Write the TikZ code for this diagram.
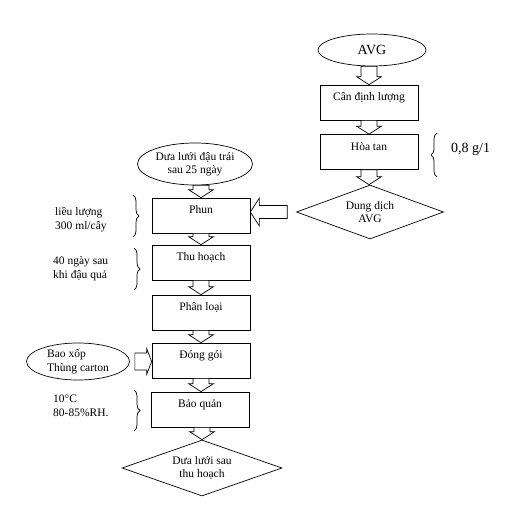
\documentclass[tikz,border=0pt]{standalone}
\usepackage{fontspec}
\setmainfont{Liberation Serif}
\usetikzlibrary{shapes.geometric,decorations.pathreplacing,calc}
\begin{document}
\begin{tikzpicture}[x=1pt,y=1pt,
  every node/.style={font=\fontsize{11.5}{13.5}\selectfont},
  lw/.style={line width=0.7pt},
  box/.style={draw, lw, minimum width=98pt, minimum height=35pt, inner sep=0pt, text height=8pt, text depth=12pt},
  oval/.style={draw, lw, ellipse, inner sep=0pt, align=center},
  dmd/.style={draw, lw, diamond, aspect=2.7, inner sep=0pt, align=center},
  note/.style={align=left, anchor=west, inner sep=0pt},
  barrow/.style n args={3}{draw, lw, fill=white, to path={
    let \p1=(\tikztostart), \p2=(\tikztotarget), \n1={atan2(\y2-\y1,\x2-\x1)},
        \p3=($(\p2)+(\n1+180:#3)$) in
    ($(\p1)+(\n1+90:#1)$) -- ($(\p3)+(\n1+90:#1)$) -- ($(\p3)+(\n1+90:#2)$) -- (\p2)
    -- ($(\p3)+(\n1-90:#2)$) -- ($(\p3)+(\n1-90:#1)$) -- ($(\p1)+(\n1-90:#1)$) -- cycle}},
  down/.style={barrow={8pt}{12.5pt}{8pt}},
  bracestyle/.style={draw, lw, decorate, decoration={brace, amplitude=6pt}}
]
\useasboundingbox (0,0) rectangle (511,-522);

% right column
\node[oval, minimum width=108pt, minimum height=32pt, font=\fontsize{14}{16}\selectfont] (avg) at (372,-50) {AVG};
\node[box] (can) at (369,-102.5) {Cân định lượng};
\node[box] (hoa) at (369,-152) {Hòa tan};
\node[dmd, minimum width=147pt, minimum height=54pt] (dd) at (370,-212) {Dung dịch\\AVG};
\node[note, font=\fontsize{14}{16}\selectfont] (conc) at (451,-149) {0,8 g/1};

% left column
\node[oval, minimum width=115pt, minimum height=42pt] (melon) at (195,-164) {Dưa lưới đậu trái\\sau 25 ngày};
\node[box] (phun) at (201,-215.5) {Phun};
\node[box] (thu) at (201,-262.5) {Thu hoạch};
\node[box] (phan) at (201,-312.5) {Phân loại};
\node[box] (dong) at (201,-360.5) {Đóng gói};
\node[box] (baoq) at (200,-409.5) {Bảo quản};
\node[dmd, minimum width=160pt, minimum height=56pt] (fin) at (202,-468) {Dưa lưới sau\\thu hoạch};
\node[oval, minimum width=103pt, minimum height=37pt, align=left] (bx) at (78,-361.5) {Bao xốp\\Thùng carton};

% side notes
\node[note] (lieu) at (55,-219.5) {liều lượng\\300 ml/cây};
\node[note] (forty) at (53,-268.5) {40 ngày sau\\khi đậu quả};
\node[note] (temp) at (53,-406) {10°C\\80-85\%RH.};

% braces
\draw[bracestyle] (133,-195) -- (133,-237);
\draw[bracestyle] (134,-248) -- (134,-290);
\draw[bracestyle] (134,-390) -- (134,-431);
\draw[bracestyle] (437,-177) -- (437,-133);

% block arrows
\path[down] (can.north |- avg.south) to (can.north);
\path[down] (can.south) to (hoa.north);
\path[down] (hoa.south) to (hoa.south |- dd.north);
\path[down] (phun.north |- melon.south) to (phun.north);
\path[down] (phun.south) to (thu.north);
\path[down] (thu.south) to (phan.north);
\path[down] (phan.south) to (dong.north);
\path[down] (dong.south) to (dong.south |- baoq.north);
\path[down] (fin.north |- baoq.south) to (fin.north);
\path[barrow={6.5pt}{14pt}{9pt}] ([xshift=-9pt]dd.west) to (phun.east |- dd.west);
\path[barrow={8.5pt}{13pt}{5pt}] ([xshift=5pt]bx.east) to (dong.west |- bx.east);
\end{tikzpicture}
\end{document}
